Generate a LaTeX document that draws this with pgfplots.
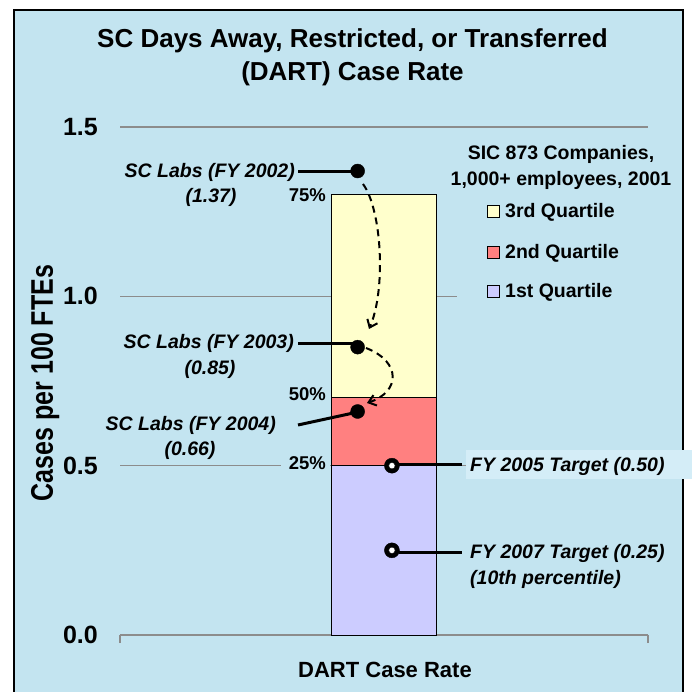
\documentclass[border=0pt]{standalone}
\usepackage{pgfplots}
\pgfplotsset{compat=1.18}
\usepackage{fontspec}
\usepackage{graphicx}
\setmainfont{Liberation Sans}
\usetikzlibrary{arrows.meta}
\definecolor{bg}{RGB}{195,228,240}
\definecolor{bglight}{RGB}{212,237,247}
\definecolor{gridgray}{RGB}{140,140,140}
\definecolor{q3}{RGB}{255,255,204}
\definecolor{q2}{RGB}{255,128,128}
\definecolor{q1}{RGB}{204,204,255}
\newcommand{\fs}[1]{\fontsize{#1bp}{#1bp}\selectfont}
\pgfplotstableread{
x y
5.15 0.50
5.15 0.25
}\targets
\begin{document}
\begin{tikzpicture}
% pixel coordinate frame: (px,py) of the 692x692 image
\begin{scope}[shift={(-120bp,635bp)},x=1bp,y=-1bp]
  \path[use as bounding box] (0,0) rectangle (692,692);
  \fill[white] (0,0) rectangle (692,692);
  \fill[bg] (14,10) rectangle (683,705);
  \draw[line width=1.5bp] (14,10) rectangle (683,705);
\end{scope}

\begin{axis}[
  at={(0,0)}, anchor=south west,
  scale only axis, width=528bp, height=508bp,
  xmin=0, xmax=10, ymin=0, ymax=1.5,
  axis line style={draw=none},
  xtick={0,10}, xticklabels={}, xtick pos=left, xtick align=outside,
  major tick length=8bp,
  xtick style={draw=gridgray, line width=1.5bp},
  ytick={0,0.5,1,1.5}, yticklabels={0.0,0.5,1.0,1.5},
  ytick style={draw=none},
  yticklabel style={font=\bfseries\fs{25}, inner sep=0pt, anchor=east, xshift=-22bp},
  ymajorgrids, grid style={draw=gridgray, line width=1.5bp},
  clip=false,
]
% quartile bars (upper bound of each quartile)
\addplot[ybar, bar width=105bp, bar shift=0pt, fill=q3, draw=black, line width=1bp] coordinates {(5,1.30)};
\addplot[ybar, bar width=105bp, bar shift=0pt, fill=q2, draw=black, line width=1bp] coordinates {(5,0.70)};
\addplot[ybar, bar width=105bp, bar shift=0pt, fill=q1, draw=black, line width=1bp] coordinates {(5,0.50)};
% SC Labs actuals
\addplot[only marks, mark=*, mark size=7bp, mark options={fill=black, draw=black}] coordinates {(4.5,1.37) (4.5,0.85) (4.5,0.66)};
% targets (ring markers)
\addplot[only marks, mark=*, mark size=7.5bp, mark options={fill=black, draw=none}] table[x=x,y=y] {\targets};
\addplot[only marks, mark=*, mark size=3.2bp, mark options={fill=white, draw=none}] table[x=x,y=y] {\targets};
\end{axis}

\begin{scope}[shift={(-120bp,635bp)},x=1bp,y=-1bp]
  % covers
  \fill[bg] (457,135) rectangle (681,312);
  \fill[bg] (281,457) rectangle (330,473);
  \fill[bglight] (466,450) rectangle (692,479);
  % title
  \node[anchor=base, font=\bfseries\fs{26}] at (352.5,48) {SC Days Away, Restricted, or Transferred};
  \node[anchor=base, font=\bfseries\fs{26}] at (352.5,81) {(DART) Case Rate};
  % axis labels
  \node[rotate=90, anchor=base, font=\bfseries\fs{25}] at (53,383) {\scalebox{1}[1.25]{Cases per 100 FTEs}};
  \node[anchor=base, font=\bfseries\fs{22}] at (385,677) {DART Case Rate};
  % percent labels
  \node[anchor=base east, inner sep=0pt, font=\bfseries\fs{18.5}] at (326,202) {75\%};
  \node[anchor=base east, inner sep=0pt, font=\bfseries\fs{18.5}] at (326,401) {50\%};
  \node[anchor=base east, inner sep=0pt, font=\bfseries\fs{18.5}] at (326,470) {25\%};
  % leader lines
  \draw[line width=3bp] (298,172) -- (358,172);
  \draw[line width=3bp] (298,344) -- (358,344);
  \draw[line width=3bp] (298,425) -- (358,412);
  \draw[line width=3bp] (399,465) -- (462,465);
  \draw[line width=3bp] (399,553) -- (462,553);
  % dashed trend arrows
  \draw[line width=2bp, dash pattern=on 7bp off 5bp, -{Straight Barb[length=7bp,width=11bp,line width=2bp]}]
    (363,184) .. controls (382,210) and (386,290) .. (369,329);
  \draw[line width=2bp, dash pattern=on 7bp off 5bp, -{Straight Barb[length=7bp,width=11bp,line width=2bp]}]
    (366,348) .. controls (402,362) and (400,392) .. (367,403);
  % annotations
  \node[anchor=base east, inner sep=0pt, font=\bfseries\itshape\fs{19.5}] at (295,178) {SC Labs (FY 2002)};
  \node[anchor=base, inner sep=0pt, font=\bfseries\itshape\fs{19.5}] at (211,203) {(1.37)};
  \node[anchor=base east, inner sep=0pt, font=\bfseries\itshape\fs{19.5}] at (294,349) {SC Labs (FY 2003)};
  \node[anchor=base, inner sep=0pt, font=\bfseries\itshape\fs{19.5}] at (210,375) {(0.85)};
  \node[anchor=base east, inner sep=0pt, font=\bfseries\itshape\fs{19.5}] at (276,431) {SC Labs (FY 2004)};
  \node[anchor=base, inner sep=0pt, font=\bfseries\itshape\fs{19.5}] at (190,456) {(0.66)};
  \node[anchor=base west, inner sep=0pt, font=\bfseries\itshape\fs{19.5}] at (470,472) {FY 2005 Target (0.50)};
  \node[anchor=base west, inner sep=0pt, font=\bfseries\itshape\fs{19.5}] at (470,559) {FY 2007 Target (0.25)};
  \node[anchor=base west, inner sep=0pt, font=\bfseries\itshape\fs{19.5}] at (470,585) {(10th percentile)};
  % legend
  \node[anchor=base, inner sep=0pt, font=\bfseries\fs{19.5}] at (561,160) {SIC 873 Companies,};
  \node[anchor=base, inner sep=0pt, font=\bfseries\fs{19.5}] at (561,186) {1,000+ employees, 2001};
  \draw[fill=q3, line width=1bp] (487,206) rectangle (499,218);
  \node[anchor=base west, inner sep=0pt, font=\bfseries\fs{19.5}] at (505,218) {3rd Quartile};
  \draw[fill=q2, line width=1bp] (487,247) rectangle (499,259);
  \node[anchor=base west, inner sep=0pt, font=\bfseries\fs{19.5}] at (505,259) {2nd Quartile};
  \draw[fill=q1, line width=1bp] (487,286) rectangle (499,298);
  \node[anchor=base west, inner sep=0pt, font=\bfseries\fs{19.5}] at (505,298) {1st Quartile};
\end{scope}
\end{tikzpicture}
\end{document}
